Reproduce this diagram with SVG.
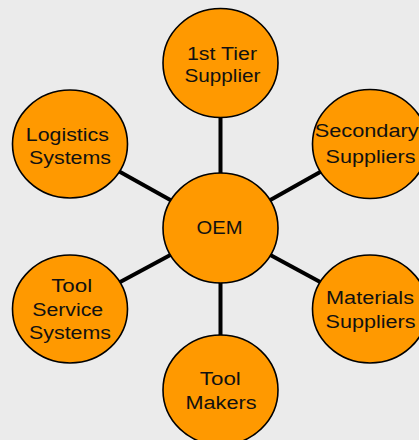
<svg xmlns="http://www.w3.org/2000/svg" width="419" height="440" viewBox="0 0 419 440">
<style>
.bg{fill:#ebebeb}
.c{fill:#ff9900;stroke:#000;stroke-width:1.6}
.t{font-family:"Liberation Sans",Arial,sans-serif;font-size:18px;fill:#111;text-anchor:middle}
.l{stroke:#000;stroke-width:4;fill:none}
</style>
<rect class="bg" x="0" y="0" width="419" height="440"/>
<g id="connectors">
<line class="l" x1="220.5" y1="228" x2="220.5" y2="63"/>
<line class="l" x1="220.5" y1="228" x2="370" y2="144"/>
<line class="l" x1="220.5" y1="228" x2="370" y2="309"/>
<line class="l" x1="220.5" y1="228" x2="220.5" y2="390"/>
<line class="l" x1="220.5" y1="228" x2="70" y2="309"/>
<line class="l" x1="220.5" y1="228" x2="70" y2="144"/>
</g>
<g id="n-1st-tier">
<ellipse class="c" cx="220.5" cy="63" rx="57.5" ry="54.5"/>
<text class="t" x="222" y="60" textLength="70" lengthAdjust="spacingAndGlyphs">1st Tier</text>
<text class="t" x="222.5" y="82" textLength="76" lengthAdjust="spacingAndGlyphs">Supplier</text>
</g>
<g id="n-secondary">
<ellipse class="c" cx="370" cy="144" rx="57.5" ry="54.5"/>
<text class="t" x="366.7" y="137.3" textLength="104" lengthAdjust="spacingAndGlyphs">Secondary</text>
<text class="t" x="370.5" y="162.5" textLength="90" lengthAdjust="spacingAndGlyphs">Suppliers</text>
</g>
<g id="n-materials">
<ellipse class="c" cx="370" cy="309" rx="57.5" ry="54"/>
<text class="t" x="370" y="304" textLength="88" lengthAdjust="spacingAndGlyphs">Materials</text>
<text class="t" x="370.5" y="328" textLength="90" lengthAdjust="spacingAndGlyphs">Suppliers</text>
</g>
<g id="n-tool-makers">
<ellipse class="c" cx="220.5" cy="390" rx="57.5" ry="55"/>
<text class="t" x="220.3" y="385" textLength="41" lengthAdjust="spacingAndGlyphs">Tool</text>
<text class="t" x="221" y="409" textLength="71" lengthAdjust="spacingAndGlyphs">Makers</text>
</g>
<g id="n-tool-service">
<ellipse class="c" cx="70" cy="309" rx="57.5" ry="54"/>
<text class="t" x="71.7" y="292.3" textLength="41" lengthAdjust="spacingAndGlyphs">Tool</text>
<text class="t" x="67.7" y="316" textLength="71" lengthAdjust="spacingAndGlyphs">Service</text>
<text class="t" x="70" y="338.5" textLength="82" lengthAdjust="spacingAndGlyphs">Systems</text>
</g>
<g id="n-logistics">
<ellipse class="c" cx="70" cy="144" rx="57.5" ry="54"/>
<text class="t" x="67.3" y="140.7" textLength="83" lengthAdjust="spacingAndGlyphs">Logistics</text>
<text class="t" x="70" y="164.3" textLength="82" lengthAdjust="spacingAndGlyphs">Systems</text>
</g>
<g id="n-oem">
<ellipse class="c" cx="220.5" cy="228" rx="57.5" ry="55"/>
<text class="t" x="219.5" y="233.5" textLength="46" lengthAdjust="spacingAndGlyphs">OEM</text>
</g>
</svg>
